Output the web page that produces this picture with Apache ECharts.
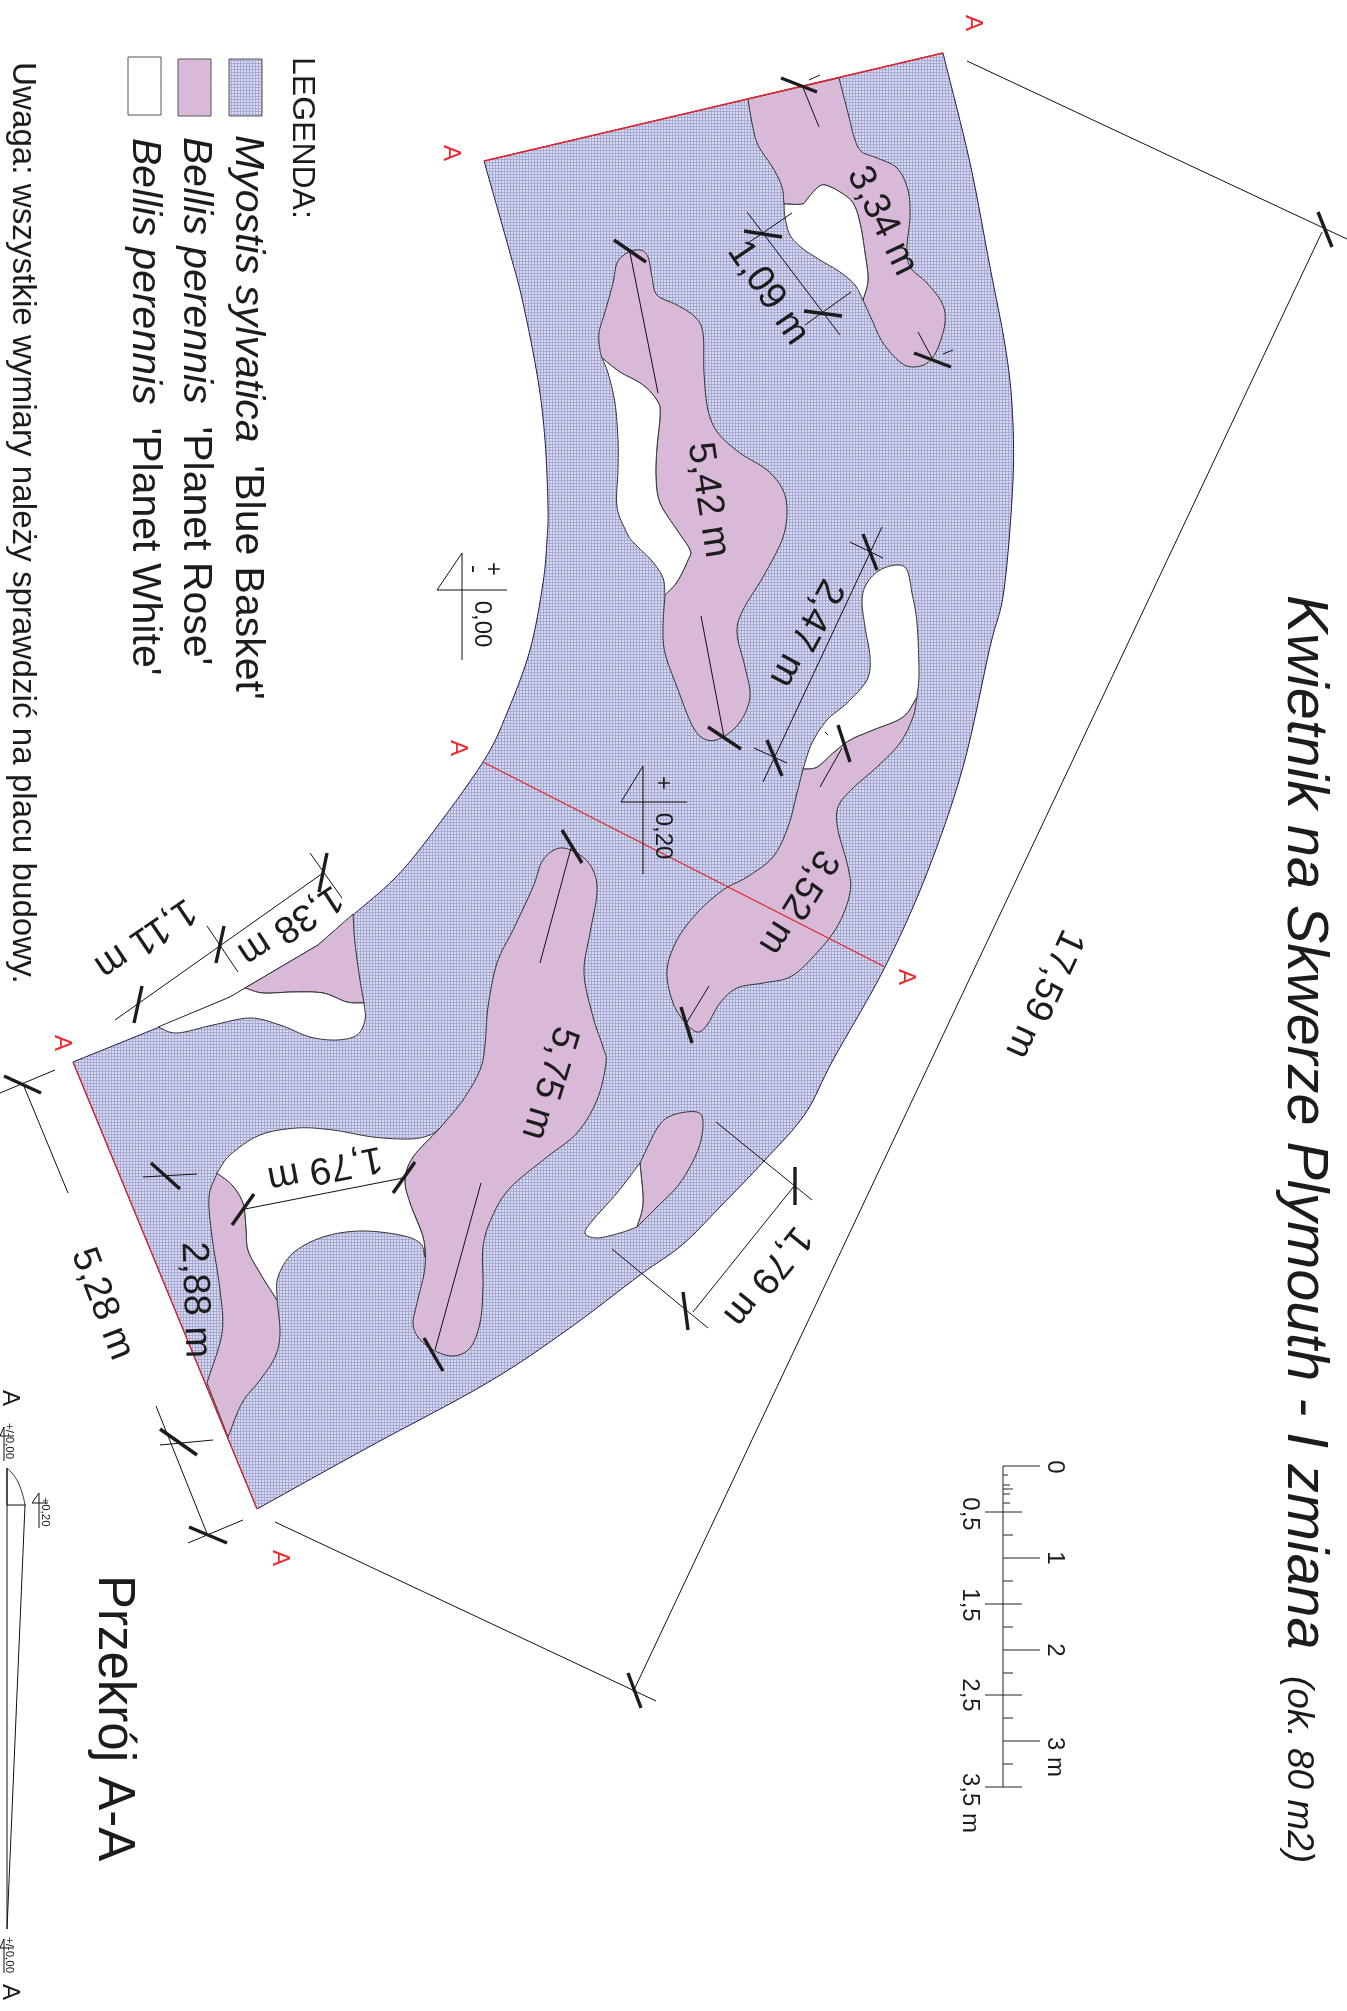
<!DOCTYPE html>
<html><head><meta charset="utf-8">
<style>html,body{margin:0;padding:0;background:#fff}#c{width:1347px;height:2011px}</style>
<script src="https://cdn.jsdelivr.net/npm/echarts@6/dist/echarts.min.js"></script>
</head><body><div id="c"></div>
<script>
// Plan outlines. A third element 1 marks a sharp corner.
const bedBlue=[[943,53,1],[970,163],[990,267],[1005,345],[1012,405],[1013,480],[1004,590],[990,647],[963,767],[927,873],[885,967],[833,1060],[805,1114],[765,1160],[720,1207],[682,1245],[640,1275],[567,1330],[487,1383],[367,1448],[257,1509,1],[73,1062,1],[157,1028,1],[230,997,1],[245,988,1],[318,945,1],[353,915,1],[393,880],[427,840],[483,762],[507,713],[530,650],[543,583],[547,540],[548,507],[545,440],[538,380],[523,303],[510,253],[484,161,1]];
const rose1=[[748,99,1],[752,123],[758,145],[773,168],[782,187],[784,204,1],[802,204],[808,198],[817,188],[825,185],[840,192],[853,203],[860,223],[865,253],[868,280],[863,300,1],[872,320],[883,343],[900,362],[913,367],[927,363],[937,350],[945,323],[942,303],[927,283],[910,267],[907,247],[910,217],[908,190],[897,168],[877,158],[862,152],[855,140],[848,113],[839,78,1]];
const white1=[[784,204,1],[802,204],[808,198],[817,188],[825,185],[840,192],[853,203],[860,223],[865,253],[868,280],[863,300,1],[855,285],[840,272],[820,260],[802,248],[790,235],[785,217]];
const rose2=[[627,253],[617,263],[613,283],[605,312],[599,333],[600,350],[602,358,1],[620,372],[643,385],[658,402],[660,417],[657,447],[656,477],[660,503],[677,530],[690,550],[688,560],[677,582],[665,595,1],[663,627],[665,653],[677,687],[693,727],[707,740],[723,737],[740,722],[750,697],[745,667],[737,633],[743,610],[763,577],[782,540],[787,513],[783,490],[767,470],[740,453],[718,433],[708,410],[704,373],[703,333],[695,317],[677,305],[657,295],[652,277],[648,257],[640,250]];
const white2=[[602,358,1],[620,372],[643,385],[658,402],[660,417],[657,447],[656,477],[660,503],[677,530],[690,550],[688,560],[677,582],[665,595,1],[663,578],[652,561],[634,543],[627,533],[617,507],[618,470],[618,440],[615,403],[608,373]];
const white3=[[897,565],[880,570],[867,583],[862,600],[865,627],[870,657],[867,680],[847,703],[827,720],[812,743],[803,769,1],[817,767],[833,753],[850,740],[873,730],[903,717],[917,697,1],[919,673],[917,623],[912,593],[907,570]];
const rose3=[[803,769,1],[797,793],[788,827],[773,857],[747,877],[723,890],[697,913],[677,940],[667,970],[672,1000],[683,1020],[697,1032],[707,1025],[720,1003],[737,988],[763,983],[790,977],[813,957],[837,927],[850,893],[848,867],[838,830],[838,807],[853,788],[877,767],[900,743],[913,717],[917,697,1],[903,717],[873,730],[850,740],[833,753],[817,767]];
const rose4=[[560,848],[543,860],[533,887],[513,930],[497,963],[488,1007],[485,1045],[480,1070],[463,1100],[440,1128,1],[413,1157],[405,1180],[410,1203],[423,1237],[425,1267],[417,1303],[413,1323],[418,1337],[433,1350],[453,1356],[470,1348],[480,1323],[483,1287],[483,1247],[492,1217],[510,1188],[547,1157],[577,1133],[597,1100],[606,1063],[603,1047],[593,1017],[584,973],[590,933],[597,893],[593,870],[580,855]];
const rose5=[[217,1173,1],[209,1197],[212,1237],[220,1290],[222,1333],[207,1383,1],[228,1437,1],[242,1403],[260,1380],[275,1357],[280,1333],[277,1300,1],[260,1273],[248,1250],[246,1227],[243,1203],[232,1185]];
const white5=[[217,1173,1],[230,1155],[260,1135],[297,1128],[333,1130],[373,1137],[410,1139],[430,1135],[440,1128,1],[413,1157],[405,1180],[410,1203],[423,1237],[425,1257,1],[420,1243],[400,1235],[360,1231],[323,1237],[293,1253],[278,1277],[277,1300,1],[260,1273],[248,1250],[246,1227],[243,1203],[232,1185]];
const rose6=[[640,1163,1],[658,1127],[673,1115],[697,1112],[703,1123],[698,1150],[680,1183],[657,1207],[637,1227,1],[643,1203]];
const white6=[[640,1163,1],[643,1203],[637,1227,1],[620,1233],[597,1238],[585,1233],[593,1220],[617,1193]];
const rose7=[[353,914,1],[355,943],[360,980],[364,1003,1],[347,1002],[323,993],[293,992],[263,993],[245,988,1],[318,945,1]];
const white7=[[364,1003,1],[365,1020],[357,1035],[337,1040],[310,1037],[280,1025],[250,1018],[213,1025],[177,1033],[158,1027,1],[230,997,1],[245,988,1],[263,993],[293,992],[323,993],[347,1002]];
const legendBlue=[[229,59,1],[262,59,1],[262,116,1],[229,116,1]];
const legendRose=[[178,59,1],[211,59,1],[211,116,1],[178,116,1]];
const legendWhite=[[128,57,1],[161,57,1],[161,115,1],[128,115,1]];
const sectionCurve=[[7,1468],[18,1482],[25,1505]];

const redLines=[[943,53,484,161],[73,1062,257,1509],[483,762,885,967]];
const thinLines=[[967,61,1347,239],[1322,232,633,1692],[275,1522,656,1701],[0,1093,55,1070],[23,1084,68,1193],[156,1406,208,1536],[160,1445,213,1440],[188,1543,243,1520],[143,1177,197,1174],[245,1209,403,1178],[481,1183,435,1350],[571,848,540,963],[630,253,658,393],[701,616,724,737],[802,85,819,127],[809,80,820,75],[918,332,932,358],[943,354,953,350],[747,212,840,335],[748,243,792,213],[805,325,851,292],[882,527,763,782],[850,542,883,558],[754,748,787,763],[842,748,820,787],[825,732,828,735],[709,986,687,1022],[323,873,115,1020],[310,853,342,898],[207,926,238,972],[716,1122,812,1200],[612,1249,708,1328],[795,1185,693,1312],[462,553,437,590],[437,590,507,590],[462,553,462,660],[643,766,621,802],[621,802,687,802],[643,766,643,874],
 [7,1468,7,1929],[7,1468,7,1505],[25,1505,7,1929],[7,1505,26,1505],[4,1427,4,1461],[0,1436,14,1436],[4,1427,0,1436],[39,1493,39,1528],[32,1503,48,1503],[39,1493,32,1503],[4,1939,4,1973],[0,1948,14,1948],[4,1939,0,1948]];
const thickLines=[[1318,212,1332,247],[628,1673,641,1708],[4,1076,41,1093],[160,1429,197,1455],[189,1527,227,1543],[151,1163,180,1189],[232,1225,254,1194],[393,1193,415,1162],[424,1338,443,1371],[562,830,582,863],[614,240,646,262],[708,727,741,749],[781,78,817,92],[914,353,951,367],[744,231,782,237],[804,311,842,316],[863,534,877,570],[767,740,782,776],[838,725,850,762],[681,1007,692,1043],[327,853,319,892],[224,926,216,963],[142,986,134,1023],[795,1167,795,1205],[683,1292,688,1330]];
const scaleLines=[[1003,1466,1003,1787],[1003,1466,1040,1466],[985,1512,1022,1512],[1003,1558,1040,1558],[985,1604,1022,1604],[1003,1650,1040,1650],[985,1695,1022,1695],[1003,1741,1040,1741],[985,1787,1022,1787],[1003,1535,1013,1535],[1003,1581,1013,1581],[1003,1627,1013,1627],[1003,1673,1013,1673],[1003,1718,1013,1718],[1003,1764,1013,1764],[1003,1475,1008,1475],[1003,1485,1010,1485],[1003,1489,1013,1489],[1003,1494,1010,1494],[1003,1503,1010,1503]];

// text, x, y, rotation in degrees clockwise, size, align
const blackLabels=[
 ['LEGENDA:',302,57,90,32,'left'],
 ['Uwaga: wszystkie wymiary należy sprawdzić na placu budowy.',22,62,90,33.2,'left'],
 ['Przekrój A-A',113,1575,90,51,'left'],
 ['3,34 m',882,221,64,38],['1,09 m',768,293,56,38],['5,42 m',708,500,81,38],['2,47 m',806,633,118,38],['3,52 m',798,902,122,38],['5,75 m',549,1083,107,38],['1,79 m',325,1168,169,38],['2,88 m',195,1300,88,38],['5,28 m',102,1304,69,38],['1,38 m',290,925,147,38],['1,11 m',145,938,146,38],['17,59 m',1044,994,115,38],['1,79 m',767,1276,129,38],
 ['+',493,569,90,24],['-',474,569,90,24],['0,00',482,624,90,24],['+',663,783,90,24],['0,20',663,836,90,24],
 ['0',1055,1467,90,24],['0,5',970,1514,90,24],['1',1055,1558,90,24],['1,5',970,1605,90,24],['2',1055,1650,90,24],['2,5',970,1695,90,24],['3 m',1055,1757,90,24],['3,5 m',970,1803,90,24],
 ['A',10,1398,90,24],['A',10,1992,90,24],['+/-0,00',9,1441,90,11.5],['+0,20',45,1512,90,11.5],['+/-0,00',9,1955,90,11.5]];
const redLabels=[['A',973,23],['A',451,153],['A',458,748],['A',906,977],['A',62,1043],['A',280,1558]];
const richLabels=[
 ['{i|Kwietnik na Skwerze Plymouth - I zmiana}',1304,595,57.5],
 ['{i|(ok. 80 m2)}',1298,1676,37],
 ["{i|Myostis sylvatica}{n|  'Blue Basket'}",247,135,41],
 ["{i|Bellis perennis}{n|  'Planet Rose'}",195,137,41],
 ["{i|Bellis perennis}{n|  'Planet White'}",144,138,41]];

const tile=document.createElement('canvas');tile.width=3;tile.height=3;
(function(){const g=tile.getContext('2d');g.fillStyle='#a6a9d4';g.fillRect(0,0,3,3);g.fillStyle='#d8daef';g.fillRect(1,1,2,2);})();
const BLUE={image:tile,repeat:'repeat'},ROSE='#d8b9d8',WHITE='#ffffff';
const FONT='"Liberation Sans",Arial,sans-serif';

function outline(p){ // closed Hermite through the points; corners keep one-sided tangents
 const n=p.length,out=[];
 const tan=(i,side)=>{const a=p[(i-1+n)%n],b=p[i],c=p[(i+1)%n];
  if(b[2]) return side>0?[c[0]-b[0],c[1]-b[1]]:[b[0]-a[0],b[1]-a[1]];
  return [(c[0]-a[0])/2,(c[1]-a[1])/2];};
 for(let i=0;i<n;i++){const a=p[i],b=p[(i+1)%n],m0=tan(i,1),m1=tan((i+1)%n,-1);
  for(let k=0;k<8;k++){const t=k/8,t2=t*t,t3=t2*t,h00=2*t3-3*t2+1,h10=t3-2*t2+t,h01=-2*t3+3*t2,h11=t3-t2;
   out.push([h00*a[0]+h10*m0[0]+h01*b[0]+h11*m1[0],h00*a[1]+h10*m0[1]+h01*b[1]+h11*m1[1]]);}}
 return out;
}
const fills=[[bedBlue,BLUE,'#1d1d4f'],[rose1,ROSE,'#333'],[rose2,ROSE,'#333'],[rose3,ROSE,'#333'],[rose4,ROSE,'#333'],[rose5,ROSE,'#333'],[rose6,ROSE,'#333'],[rose7,ROSE,'#333'],[white1,WHITE,'#333'],[white2,WHITE,'#333'],[white3,WHITE,'#333'],[white5,WHITE,'#333'],[white6,WHITE,'#333'],[white7,WHITE,'#333'],[legendBlue,BLUE,'#555'],[legendRose,ROSE,'#555'],[legendWhite,WHITE,'#555']];

function segSeries(list,color,width){return {type:'custom',coordinateSystem:'cartesian2d',silent:true,clip:false,
 encode:{x:[0,2],y:[1,3]},data:list,renderItem(_,api){const a=api.coord([api.value(0),api.value(1)]),b=api.coord([api.value(2),api.value(3)]);
 return {type:'line',shape:{x1:a[0],y1:a[1],x2:b[0],y2:b[1]},style:{stroke:color,lineWidth:width,fill:null}};}};}

const chart=echarts.init(document.getElementById('c'),null,{renderer:'canvas'});
chart.setOption({animation:false,
 grid:{left:0,right:0,top:0,bottom:0},
 xAxis:{type:'value',min:0,max:1347,show:false},
 yAxis:{type:'value',min:0,max:2011,inverse:true,show:false},
 series:[
  {type:'custom',coordinateSystem:'cartesian2d',silent:true,clip:false,encode:{x:1,y:2},
   data:fills.map((f,i)=>[i,f[0][0][0],f[0][0][1]]),
   renderItem(_,api){const f=fills[api.value(0)];
    return {type:'polygon',shape:{points:outline(f[0]).map(q=>api.coord(q))},style:{fill:f[1],stroke:f[2],lineWidth:1}};}},
  segSeries(redLines,'#e2262e',1.3),
  segSeries(thinLines,'#111',1),
  segSeries(scaleLines,'#222',1),
  segSeries(thickLines,'#1c1c1c',3.4),
  {type:'line',data:sectionCurve,smooth:true,showSymbol:false,silent:true,lineStyle:{color:'#222',width:0.9}},
  {type:'custom',coordinateSystem:'cartesian2d',silent:true,clip:false,encode:{x:1,y:2},
   data:blackLabels.map((l,i)=>[i,l[1],l[2]]),
   renderItem(_,api){const l=blackLabels[api.value(0)],c=api.coord([l[1],l[2]]);
    return {type:'text',x:c[0],y:c[1],rotation:-l[3]*Math.PI/180,style:{text:l[0],fontFamily:FONT,fontSize:l[4],fill:'#1c1c1c',align:l[5]||'center',verticalAlign:'middle'}};}},
  {type:'custom',coordinateSystem:'cartesian2d',silent:true,clip:false,encode:{x:1,y:2},
   data:redLabels.map((l,i)=>[i,l[1],l[2]]),
   renderItem(_,api){const l=redLabels[api.value(0)],c=api.coord([l[1],l[2]]);
    return {type:'text',x:c[0],y:c[1],rotation:-Math.PI/2,style:{text:l[0],fontFamily:FONT,fontSize:24,fill:'#f0282e',align:'center',verticalAlign:'middle'}};}},
  {type:'custom',coordinateSystem:'cartesian2d',silent:true,clip:false,encode:{x:1,y:2},
   data:richLabels.map((l,i)=>[i,l[1],l[2]]),
   renderItem(_,api){const l=richLabels[api.value(0)],c=api.coord([l[1],l[2]]);
    return {type:'text',x:c[0],y:c[1],rotation:-Math.PI/2,style:{text:l[0],align:'left',verticalAlign:'middle',
     rich:{i:{fontFamily:FONT,fontSize:l[3],fontStyle:'italic',fill:'#1c1c1c'},n:{fontFamily:FONT,fontSize:l[3],fill:'#1c1c1c'}}}};}}
 ]});
</script></body></html>
